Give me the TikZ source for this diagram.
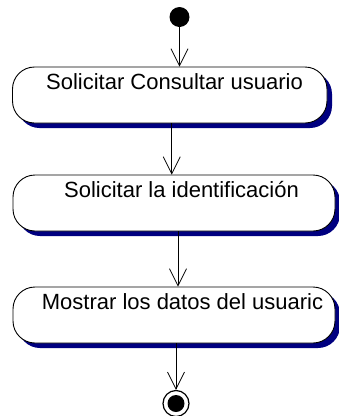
\documentclass[tikz,border=0pt]{standalone}
\usepackage{fontspec}
\setmainfont{Liberation Sans}
\usetikzlibrary{positioning,arrows.meta,shadows}
\definecolor{umlnavy}{RGB}{0,0,128}

\begin{document}
\begin{tikzpicture}[x=1pt, y=-1pt,
    activity/.style={draw, line width=0.9pt, fill=white, rounded corners=22pt, inner sep=0pt,
        minimum height=56pt, text height=22pt, text depth=34pt,
        font=\fontsize{22pt}{26pt}\selectfont,
        drop shadow={shadow xshift=5pt, shadow yshift=-5pt, fill=umlnavy, opacity=1}},
    flow/.style={-{Straight Barb[length=17pt, width=17pt]}, line width=0.8pt}]
    \useasboundingbox (0,0) rectangle (339,416);

    % Initial state
    \node[circle, fill=black, minimum size=20pt, inner sep=0pt] (start) at (179.5,17) {};

    % Activities
    \node[activity, minimum width=314.5pt] (consultar) at (169.75,95) {\hspace*{9.5pt}Solicitar Consultar usuario};
    \node[activity, minimum width=322pt] (ident) at (174,203) {\hspace*{15pt}Solicitar la identificación};
    \node[activity, minimum width=322pt] (datos) at (174,315) {\hspace*{17pt}Mostrar los datos del usuaric};

    % Final state
    \node[circle, draw, line width=1.2pt, minimum size=26pt, inner sep=0pt,
        path picture={\fill (path picture bounding box.center) circle (8.5pt);}] (fin) at (176,403.5) {};

    % Transitions
    \draw[flow] (start) -- (start |- consultar.north);
    \draw[flow] ([xshift=2pt]consultar.south) -- ([xshift=2pt]consultar.south |- ident.north);
    \draw[flow] ([xshift=4pt]ident.south) -- ([xshift=4pt]ident.south |- datos.north);
    \draw[flow] (fin |- datos.south) -- (fin);
\end{tikzpicture}
\end{document}
